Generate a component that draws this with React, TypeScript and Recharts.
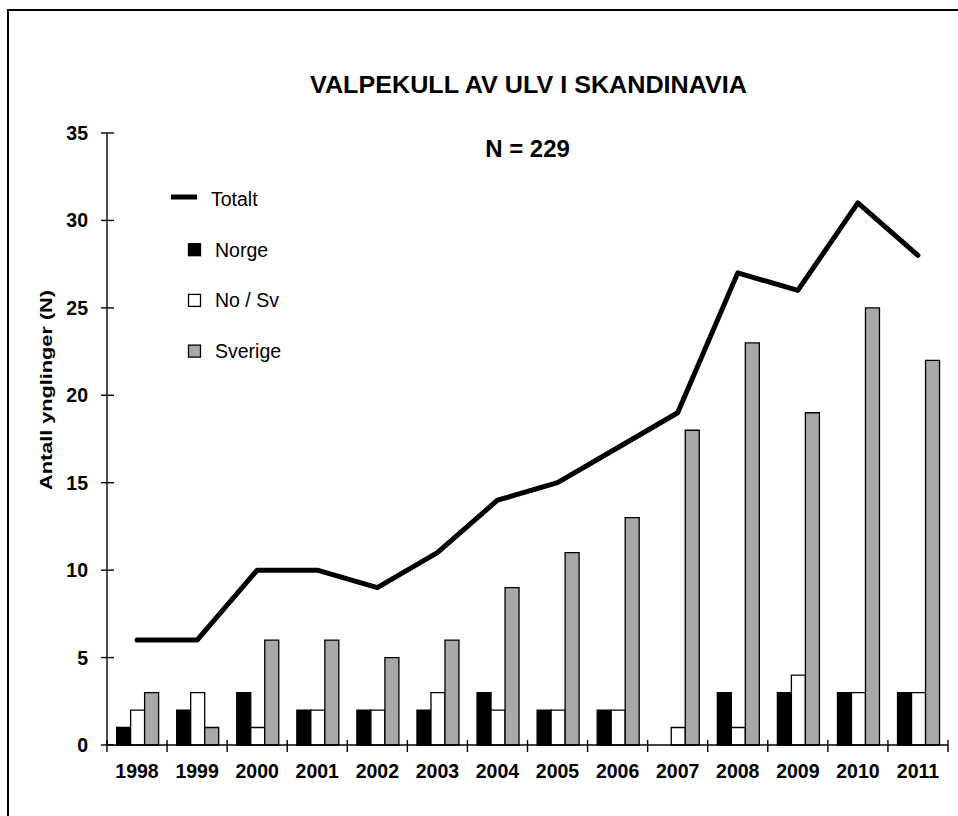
import React from 'react';
import { ComposedChart, Bar, Line, XAxis, YAxis, Legend } from 'recharts';

const years = ['1998', '1999', '2000', '2001', '2002', '2003', '2004', '2005', '2006', '2007', '2008', '2009', '2010', '2011'];
const norge = [1, 2, 3, 2, 2, 2, 3, 2, 2, 0, 3, 3, 3, 3];
const noSv = [2, 3, 1, 2, 2, 3, 2, 2, 2, 1, 1, 4, 3, 3];
const sverige = [3, 1, 6, 6, 5, 6, 9, 11, 13, 18, 23, 19, 25, 22];
const totalt = [6, 6, 10, 10, 9, 11, 14, 15, 17, 19, 27, 26, 31, 28];
const yTicks = [0, 5, 10, 15, 20, 25, 30, 35];

const title = 'VALPEKULL  AV ULV I SKANDINAVIA';
const subtitle = 'N = 229';
const yLabel = 'Antall ynglinger (N)';

const data = years.map((year, i) => ({
  year,
  norge: norge[i],
  noSv: noSv[i],
  sverige: sverige[i],
  totalt: totalt[i],
}));

const W = 958;
const H = 816;
const MARGIN = { top: 133, right: 10, bottom: 0, left: 0 };
const Y_AXIS_W = 107;
const X_AXIS_H = 71;
const FONT = '"Liberation Sans", Arial, Helvetica, sans-serif';
const GRAY = '#a8a8a8';
const AXIS_STROKE = 1.4;

const legendItems = [
  { name: 'Totalt', kind: 'line', fill: '#000' },
  { name: 'Norge', kind: 'box', fill: '#000' },
  { name: 'No / Sv', kind: 'box', fill: '#fff' },
  { name: 'Sverige', kind: 'box', fill: GRAY },
];

const XTick = (props: any) => {
  const { x, y, payload, index } = props;
  const band = (W - MARGIN.left - MARGIN.right - Y_AXIS_W) / years.length;
  const half = band / 2;
  const last = index === years.length - 1;
  return (
    <g>
      <line x1={x - half} x2={x - half} y1={y - 5} y2={y + 7} stroke="#000" strokeWidth={AXIS_STROKE} />
      {last && <line x1={x + half} x2={x + half} y1={y - 5} y2={y + 7} stroke="#000" strokeWidth={AXIS_STROKE} />}
      <text x={x} y={y + 33} textAnchor="middle" fontFamily={FONT} fontWeight="bold" fontSize={19.5} fill="#000">
        {payload.value}
      </text>
    </g>
  );
};

const YTick = (props: any) => {
  const { x, y, payload } = props;
  return (
    <g>
      <line x1={x - 6} x2={x + 7} y1={y} y2={y} stroke="#000" strokeWidth={AXIS_STROKE} />
      <text x={x - 19} y={y + 7} textAnchor="end" fontFamily={FONT} fontWeight="bold" fontSize={19.5} fill="#000">
        {payload.value}
      </text>
    </g>
  );
};

const LegendBox = () => {
  const ox = 160;
  const oy = 180;
  return (
    <svg width={200} height={200} style={{ display: 'block', overflow: 'visible' }}>
      {legendItems.map((it, i) => {
        const base = 206 + i * 50.7 - oy;
        if (it.kind === 'line') {
          return (
            <g key={it.name}>
              <line x1={171 - ox} x2={197 - ox} y1={197 - oy} y2={197 - oy} stroke="#000" strokeWidth={5} />
              <text x={211 - ox} y={base} fontFamily={FONT} fontSize={19.5} fill="#000">{it.name}</text>
            </g>
          );
        }
        return (
          <g key={it.name}>
            <rect x={188.5 - ox} y={base - 13} width={12} height={12} fill={it.fill} stroke="#000" strokeWidth={1.3} />
            <text x={215 - ox} y={base} fontFamily={FONT} fontSize={19.5} fill="#000">{it.name}</text>
          </g>
        );
      })}
    </svg>
  );
};

export default function App() {
  return (
    <div style={{ position: 'relative', width: W, height: H, overflow: 'hidden', background: '#fff' }}>
      <style>{`body{margin:0;}`}</style>
      <div
        style={{
          position: 'absolute',
          left: 7,
          top: 9,
          width: 1200,
          height: 1200,
          borderTop: '2px solid #000',
          borderLeft: '2px solid #000',
          boxSizing: 'border-box',
        }}
      />
      <div style={{ position: 'absolute', left: 0, top: 0 }}>
        <ComposedChart width={W} height={H} data={data} margin={MARGIN} barCategoryGap="16%" barGap={0}>
          <XAxis
            dataKey="year"
            interval={0}
            height={X_AXIS_H}
            tickLine={false}
            tickSize={0}
            tickMargin={0}
            axisLine={{ stroke: '#000', strokeWidth: AXIS_STROKE }}
            tick={<XTick />}
          />
          <YAxis
            domain={[0, 35]}
            ticks={yTicks}
            interval={0}
            width={Y_AXIS_W}
            tickLine={false}
            tickSize={0}
            tickMargin={0}
            axisLine={{ stroke: '#000', strokeWidth: AXIS_STROKE }}
            tick={<YTick />}
          />
          <Bar dataKey="norge" name="Norge" fill="#000" stroke="#000" strokeWidth={1.3} isAnimationActive={false} />
          <Bar dataKey="noSv" name="No / Sv" fill="#fff" stroke="#000" strokeWidth={1.3} isAnimationActive={false} />
          <Bar dataKey="sverige" name="Sverige" fill={GRAY} stroke="#000" strokeWidth={1.3} isAnimationActive={false} />
          <Line
            type="linear"
            dataKey="totalt"
            name="Totalt"
            stroke="#000"
            strokeWidth={5}
            strokeLinecap="round"
            strokeLinejoin="round"
            dot={false}
            activeDot={false}
            isAnimationActive={false}
          />
          <Legend
            layout="vertical"
            align="center"
            verticalAlign="middle"
            wrapperStyle={{ left: 160, top: 180, width: 200, height: 200 }}
            content={() => <LegendBox />}
          />
        </ComposedChart>
      </div>
      <svg width={W} height={H} style={{ position: 'absolute', left: 0, top: 0, pointerEvents: 'none' }}>
        <text
          x={528.5}
          y={93}
          textAnchor="middle"
          fontFamily={FONT}
          fontWeight="bold"
          fontSize={24}
          textLength={437}
          lengthAdjust="spacingAndGlyphs"
          fill="#000"
        >
          {title}
        </text>
        <text x={527.5} y={157} textAnchor="middle" fontFamily={FONT} fontWeight="bold" fontSize={24} fill="#000">
          {subtitle}
        </text>
        <text
          x={52}
          y={390}
          transform="rotate(-90, 52, 390)"
          textAnchor="middle"
          fontFamily={FONT}
          fontWeight="bold"
          fontSize={17}
          textLength={200}
          lengthAdjust="spacingAndGlyphs"
          fill="#000"
        >
          {yLabel}
        </text>
      </svg>
    </div>
  );
}
